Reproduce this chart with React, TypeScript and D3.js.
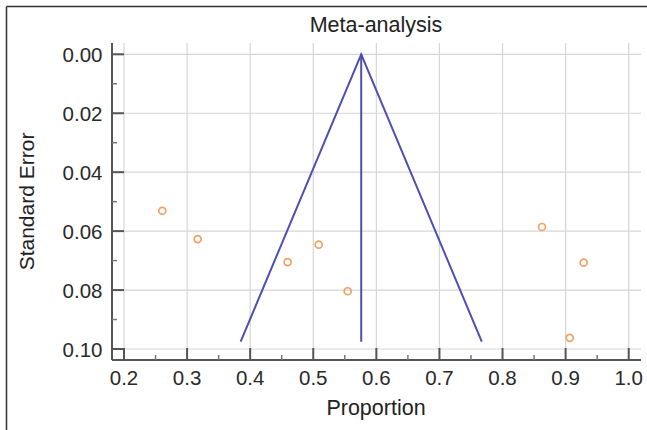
import React from "react";
import * as d3 from "d3";

const proportions = [0.2607, 0.3168, 0.4594, 0.5086, 0.5546, 0.8625, 0.9286, 0.9065];
const standardErrors = [0.0531, 0.0627, 0.0705, 0.0646, 0.0804, 0.0586, 0.0707, 0.0962];
const pooled = 0.576;
const maxSE = 0.0975;
const xTicks = [0.2, 0.3, 0.4, 0.5, 0.6, 0.7, 0.8, 0.9, 1.0];
const yTicks = [0, 0.02, 0.04, 0.06, 0.08, 0.1];
const xMinor = [0.25, 0.35, 0.45, 0.55, 0.65, 0.75, 0.85, 0.95];
const yMinor = [0.01, 0.03, 0.05, 0.07, 0.09];

export default function App() {
  const x = d3.scaleLinear().domain([0.2, 1.0]).range([124, 628.7]);
  const y = d3.scaleLinear().domain([0, 0.1]).range([54.3, 349]);
  const left = 112, right = 641, top = 43, bottom = 360;
  const font = "'Liberation Sans', Arial, Helvetica, sans-serif";
  const text = "#2a2a2a";
  const blue = "#4f4fb3";
  const orange = "#f4a065";
  const line = d3.line<[number, number]>().x(d => x(d[0])).y(d => y(d[1]));
  const funnel: [number, number][] = [
    [pooled - 1.96 * maxSE, maxSE],
    [pooled, 0],
    [pooled + 1.96 * maxSE, maxSE],
  ];
  const center: [number, number][] = [[pooled, 0], [pooled, maxSE]];
  return (
    <svg width={647} height={430} style={{ position: "absolute", left: 0, top: 0, background: "#fff" }} fontFamily={font}>
      <rect x={0} y={0} width={647} height={430} fill="#fff" />
      <line x1={6.5} y1={6.5} x2={647} y2={6.5} stroke="#333" strokeWidth={1.5} />
      <line x1={6.5} y1={6.5} x2={6.5} y2={430} stroke="#333" strokeWidth={1.5} />
      {/* grid */}
      {xTicks.map(t => (
        <line key={"gx" + t} x1={x(t)} x2={x(t)} y1={top} y2={bottom} stroke="#d6d6d6" strokeWidth={1.2} />
      ))}
      {yTicks.map(t => (
        <line key={"gy" + t} x1={left} x2={right} y1={y(t)} y2={y(t)} stroke="#d6d6d6" strokeWidth={1.2} />
      ))}
      {/* axes */}
      <line x1={left} x2={left} y1={top} y2={bottom} stroke="#555" strokeWidth={2} />
      <line x1={left} x2={right} y1={bottom} y2={bottom} stroke="#555" strokeWidth={2} />
      {yTicks.map(t => (
        <line key={"ty" + t} x1={left} x2={left + 12} y1={y(t)} y2={y(t)} stroke="#555" strokeWidth={2} />
      ))}
      {yMinor.map(t => (
        <line key={"my" + t} x1={left} x2={left + 5} y1={y(t)} y2={y(t)} stroke="#777" strokeWidth={1.5} />
      ))}
      {xTicks.map(t => (
        <line key={"tx" + t} x1={x(t)} x2={x(t)} y1={bottom} y2={bottom - 12} stroke="#555" strokeWidth={2} />
      ))}
      {xMinor.map(t => (
        <line key={"mx" + t} x1={x(t)} x2={x(t)} y1={bottom} y2={bottom - 5} stroke="#777" strokeWidth={1.5} />
      ))}
      {yTicks.map(t => (
        <text key={"ly" + t} x={102.5} y={y(t) + 7.5} textAnchor="end" fontSize={20.5} fill={text}>
          {d3.format(".2f")(t)}
        </text>
      ))}
      {xTicks.map(t => (
        <text key={"lx" + t} x={x(t)} y={385} textAnchor="middle" fontSize={20.5} fill={text}>
          {d3.format(".1f")(t)}
        </text>
      ))}
      {/* funnel */}
      <path d={line(funnel) || ""} fill="none" stroke={blue} strokeWidth={2} />
      <path d={line(center) || ""} fill="none" stroke={blue} strokeWidth={2} />
      {proportions.map((p, i) => (
        <circle key={"p" + i} cx={x(p)} cy={y(standardErrors[i])} r={3.5} fill="none" stroke={orange} strokeWidth={1.7} />
      ))}
      <text x={376} y={32} textAnchor="middle" fontSize={21.5} fill="#222">Meta-analysis</text>
      <text x={376} y={415} textAnchor="middle" fontSize={21.5} fill="#222">Proportion</text>
      <text transform={`translate(34,${(top + bottom) / 2}) rotate(-90)`} textAnchor="middle" fontSize={21} fill="#222">
        Standard Error
      </text>
    </svg>
  );
}
